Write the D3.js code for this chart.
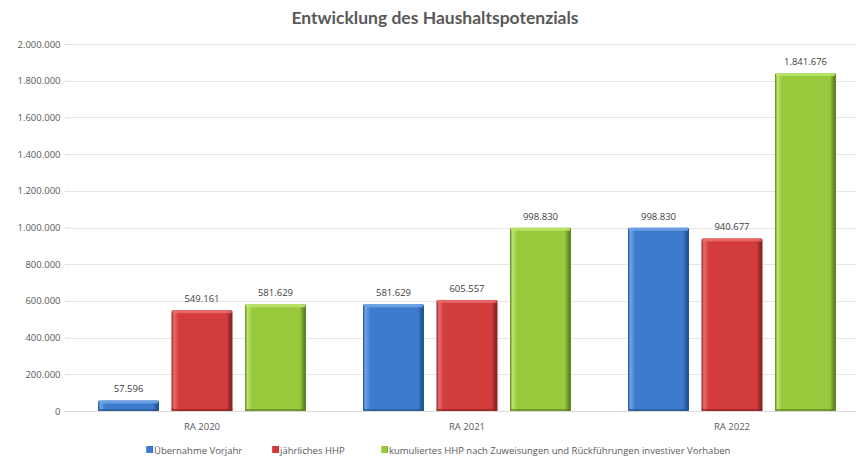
<!DOCTYPE html>
<html>
<head>
<meta charset="utf-8">
<script src="https://cdn.jsdelivr.net/npm/d3@7"></script>
<style>
  html, body { margin: 0; padding: 0; background: #fff; }
  svg { display: block; }
</style>
</head>
<body>
<svg id="chart" width="856" height="463"></svg>
<script>
// Budget potential by annual statement (RA = Rechnungsabschluss)
const categories = ["RA 2020", "RA 2021", "RA 2022"];
const seriesNames = [
  "Übernahme Vorjahr",
  "jährliches HHP",
  "kumuliertes HHP nach Zuweisungen und Rückführungen investiver Vorhaben"
];
const uebernahmeVorjahr = [57596, 581629, 998830];
const jaehrlichesHHP = [549161, 605557, 940677];
const kumuliertesHHP = [581629, 998830, 1841676];
const yTicks = [0, 200000, 400000, 600000, 800000, 1000000, 1200000, 1400000, 1600000, 1800000, 2000000];

const seriesValues = [uebernahmeVorjahr, jaehrlichesHHP, kumuliertesHHP];
const colors = [
  { base: "#3d7ccc", light: "#6fa3e6", dark: "#23548f" },
  { base: "#d23c3c", light: "#ea6a6a", dark: "#8f2323" },
  { base: "#98c83c", light: "#bde36e", dark: "#5f8420" }
];

const deLocale = d3.formatLocale({ decimal: ",", thousands: ".", grouping: [3], currency: ["", " €"] });
const fmt = deLocale.format(",d");

const svg = d3.select("#chart");
const W = 856;
const plot = { left: 69.5, right: 864.5, top: 44, bottom: 411 };

const x = d3.scaleBand().domain(categories).range([plot.left, plot.right]).paddingInner(0).paddingOuter(0);
const x1 = d3.scaleBand().domain(d3.range(3)).range([0, x.bandwidth()]).paddingInner(0.17).paddingOuter(0.388);
const y = d3.scaleLinear().domain([0, 2000000]).range([plot.bottom, plot.top]);

// gradients giving the bars their bevelled look
const defs = svg.append("defs");
colors.forEach((c, i) => {
  const g = defs.append("linearGradient").attr("id", "grad" + i).attr("x1", "0").attr("x2", "1").attr("y1", "0").attr("y2", "0");
  g.append("stop").attr("offset", "0%").attr("stop-color", c.dark);
  g.append("stop").attr("offset", "4%").attr("stop-color", c.light);
  g.append("stop").attr("offset", "12%").attr("stop-color", c.base);
  g.append("stop").attr("offset", "90%").attr("stop-color", c.base);
  g.append("stop").attr("offset", "97%").attr("stop-color", c.dark);
  g.append("stop").attr("offset", "100%").attr("stop-color", c.dark);
});

// title
svg.append("text")
  .attr("x", 435).attr("y", 24)
  .attr("text-anchor", "middle")
  .attr("font-family", "Lato, 'Open Sans', sans-serif")
  .attr("font-weight", "bold")
  .attr("font-size", 17.5)
  .attr("fill", "#595959")
  .text("Entwicklung des Haushaltspotenzials");

// gridlines
svg.append("g").selectAll("line").data(yTicks).join("line")
  .attr("x1", plot.left).attr("x2", W)
  .attr("y1", d => Math.round(y(d)) + 0.5).attr("y2", d => Math.round(y(d)) + 0.5)
  .attr("stroke", d => d === 0 ? "#d9d9d9" : "#e6e6e6")
  .attr("stroke-width", 1);

// y axis
const yAxis = d3.axisLeft(y).tickValues(yTicks).tickFormat(fmt).tickSize(5).tickPadding(4);
const gy = svg.append("g").attr("transform", `translate(${plot.left},0)`).call(yAxis);
gy.select(".domain").remove();
gy.selectAll(".tick line").attr("stroke", "#d9d9d9");
gy.selectAll(".tick text")
  .attr("font-family", "'Open Sans', sans-serif")
  .attr("font-size", 9.5)
  .attr("fill", "#595959");

// x axis labels
const xAxis = d3.axisBottom(x).tickSize(0).tickPadding(12);
const gx = svg.append("g").attr("transform", `translate(0,${plot.bottom})`).call(xAxis);
gx.select(".domain").remove();
gx.selectAll(".tick text")
  .attr("font-family", "'Open Sans', sans-serif")
  .attr("font-size", 9.5)
  .attr("fill", "#595959");

// bars
const rows = [];
categories.forEach((cat, ci) => {
  seriesValues.forEach((vals, si) => rows.push({ cat, si, v: vals[ci] }));
});

const bars = svg.append("g").selectAll("g").data(rows).join("g")
  .attr("transform", d => `translate(${x(d.cat) + x1(d.si)},0)`);

bars.append("rect")
  .attr("x", 0).attr("width", x1.bandwidth())
  .attr("y", d => y(d.v)).attr("height", d => y(0) - y(d.v))
  .attr("fill", d => `url(#grad${d.si})`)
  .attr("rx", 1.5);

// top bevel highlight
bars.append("rect")
  .attr("x", 1).attr("width", x1.bandwidth() - 2)
  .attr("y", d => y(d.v)).attr("height", d => Math.min(3, y(0) - y(d.v)))
  .attr("fill", d => colors[d.si].light)
  .attr("opacity", 0.9);

// bottom shade
bars.append("rect")
  .attr("x", 0).attr("width", x1.bandwidth())
  .attr("y", y(0) - 2).attr("height", 2)
  .attr("fill", d => colors[d.si].dark)
  .attr("opacity", 0.7);

// value labels
bars.append("text")
  .attr("x", x1.bandwidth() / 2)
  .attr("y", d => y(d.v) - 8)
  .attr("text-anchor", "middle")
  .attr("font-family", "'Open Sans', sans-serif")
  .attr("font-size", 9.5)
  .attr("fill", "#404040")
  .text(d => fmt(d.v));

// legend
const legendX = [146, 272, 381];
const lg = svg.append("g").selectAll("g").data(seriesNames).join("g")
  .attr("transform", (d, i) => `translate(${legendX[i]},450)`);
lg.append("rect")
  .attr("x", 0).attr("y", -4).attr("width", 7).attr("height", 7)
  .attr("fill", (d, i) => `url(#grad${i})`);
lg.append("text")
  .attr("x", 8).attr("y", 3.5)
  .attr("font-family", "'Open Sans', sans-serif")
  .attr("font-size", 9.5)
  .attr("fill", "#595959")
  .text(d => d);
</script>
</body>
</html>
